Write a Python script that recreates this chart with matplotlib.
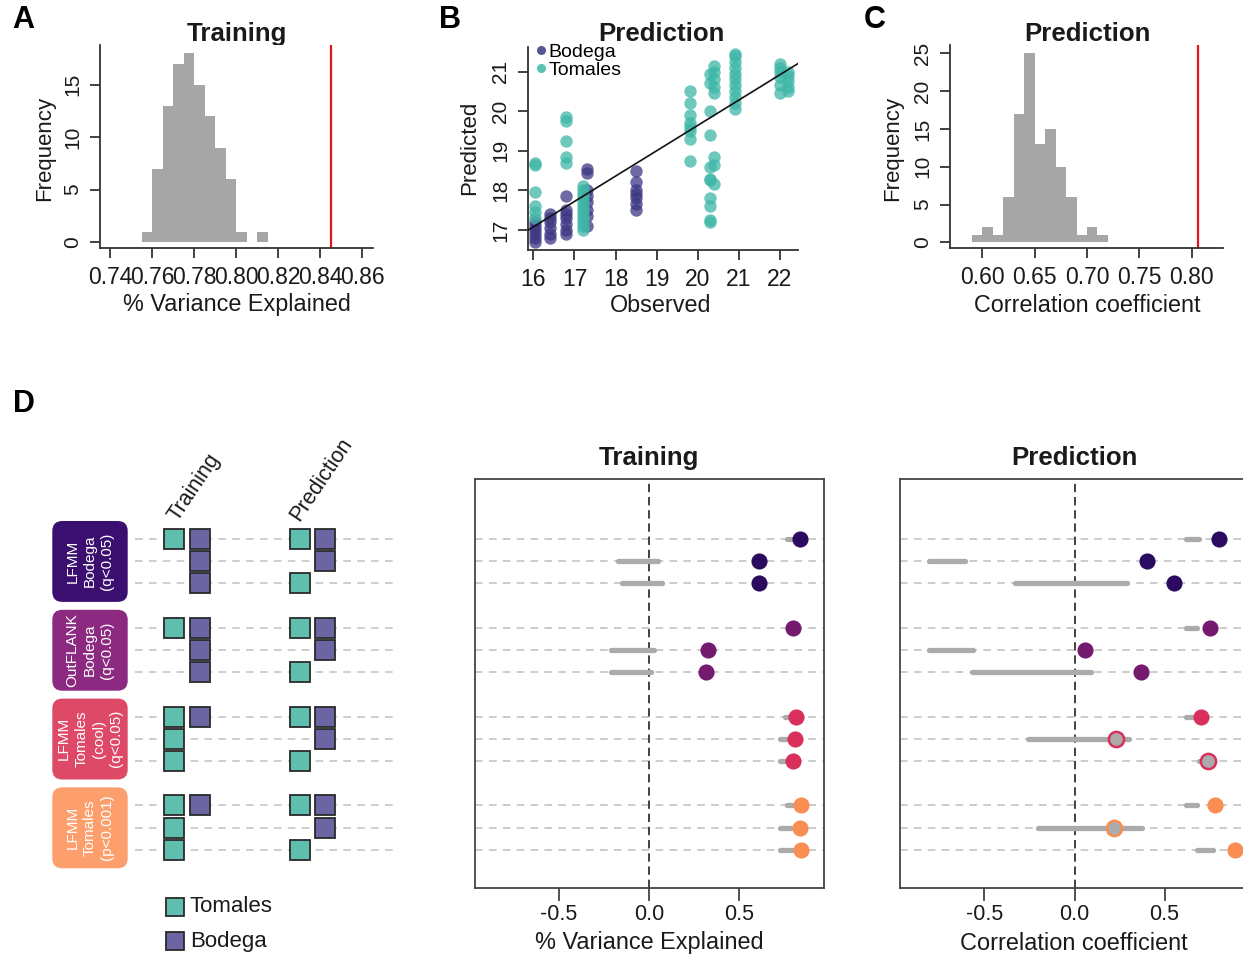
import numpy as np
import matplotlib
matplotlib.use('Agg')
import matplotlib.pyplot as plt
from matplotlib.patches import FancyBboxPatch, Rectangle
from matplotlib.lines import Line2D

plt.rcParams['font.family'] = ['Liberation Sans', 'DejaVu Sans']
plt.rcParams['lines.scale_dashes'] = False

# ---------------- data ----------------
# A: training permutation histogram (% variance explained)
a_left = [0.755, 0.760, 0.765, 0.770, 0.775, 0.780, 0.785, 0.790, 0.795, 0.800, 0.805, 0.810]
a_count = [1, 7, 13, 17, 18, 15, 12, 9, 6, 1, 0, 1]
a_width = 0.005
a_observed = 0.845
a_xticks = [0.74, 0.76, 0.78, 0.80, 0.82, 0.84, 0.86]

# C: prediction permutation histogram (correlation)
c_left = [0.59, 0.60, 0.61, 0.62, 0.63, 0.64, 0.65, 0.66, 0.67, 0.68, 0.69, 0.70, 0.71]
c_count = [1, 2, 1, 6, 17, 25, 13, 15, 10, 6, 1, 2, 1]
c_width = 0.01
c_observed = 0.806
c_xticks = [0.60, 0.65, 0.70, 0.75, 0.80]

# B: observed vs predicted
bod_obs = [16.05, 16.4, 16.8, 17.3, 18.5]
bod_pred = [
    [16.7, 16.8, 16.9, 17.0, 17.1, 17.2],
    [16.8, 16.9, 17.05, 17.2, 17.3, 17.4],
    [16.9, 17.0, 17.15, 17.3, 17.4, 17.5, 17.85],
    [17.1, 17.35, 17.5, 17.7, 17.85, 18.0, 18.45, 18.55],
    [17.5, 17.65, 17.8, 17.9, 18.0, 18.2, 18.5],
]
tom_obs = [16.05, 16.8, 17.2, 19.8, 20.3, 20.4, 20.9, 22.0, 22.2]
tom_pred = [
    [17.3, 17.45, 17.6, 17.95, 18.65, 18.7],
    [18.7, 18.85, 19.25, 19.75, 19.85],
    [17.0, 17.1, 17.2, 17.3, 17.4, 17.5, 17.6, 17.7, 17.8, 17.9, 18.0, 18.1],
    [18.75, 19.3, 19.5, 19.6, 19.7, 19.9, 20.2, 20.5],
    [17.2, 17.25, 17.6, 17.8, 18.25, 18.3, 18.6, 19.4, 20.0, 20.7, 20.95],
    [18.15, 18.65, 18.85, 20.45, 20.6, 20.8, 21.0, 21.15],
    [20.05, 20.2, 20.35, 20.5, 20.65, 20.8, 20.95, 21.1, 21.25, 21.4, 21.45],
    [20.45, 20.65, 20.85, 21.0, 21.1, 21.2],
    [20.5, 20.6, 20.75, 20.9, 21.0],
]
fit_intercept = 6.84
fit_slope = 0.64

# D: forest plots
methods = ['LFMM\nBodega\n(q<0.05)', 'OutFLANK\nBodega\n(q<0.05)',
           'LFMM\nTomales\n(cool)\n(q<0.05)', 'LFMM\nTomales\n(p<0.001)']
train_tom = [1, 0, 0, 1, 0, 0, 1, 1, 1, 1, 1, 1]
train_bod = [1, 1, 1, 1, 1, 1, 1, 0, 0, 1, 0, 0]
pred_tom = [1, 0, 1, 1, 0, 1, 1, 0, 1, 1, 0, 1]
pred_bod = [1, 1, 0, 1, 1, 0, 1, 1, 0, 1, 1, 0]

train_est = [0.84, 0.61, 0.61, 0.80, 0.33, 0.315, 0.815, 0.81, 0.80, 0.845, 0.84, 0.845]
train_lo = [0.765, -0.17, -0.15, 0.77, -0.21, -0.21, 0.755, 0.73, 0.73, 0.765, 0.73, 0.73]
train_hi = [0.80, 0.05, 0.07, 0.79, 0.03, 0.01, 0.80, 0.79, 0.78, 0.81, 0.79, 0.81]

pred_est = [0.80, 0.40, 0.555, 0.75, 0.06, 0.37, 0.70, 0.23, 0.74, 0.78, 0.22, 0.89]
pred_lo = [0.62, -0.81, -0.33, 0.62, -0.81, -0.57, 0.62, -0.26, 0.69, 0.62, -0.20, 0.68]
pred_hi = [0.69, -0.61, 0.29, 0.68, -0.565, 0.09, 0.69, 0.30, 0.73, 0.68, 0.375, 0.77]
pred_hollow = [0, 0, 0, 0, 0, 0, 0, 1, 1, 0, 1, 0]

# ---------------- styles ----------------
W, H = 1243, 957
grey_bar = '#A6A6A6'
red = '#E3161E'
ink = '#1a1a1a'
axc = '#333333'
bod_col = '#3D3784'
tom_col = '#3DB6A6'
sq_tom = '#5EBFAE'
sq_bod = '#6B65A3'
box_cols = ['#3B0F70', '#8C2981', '#DE4968', '#FC9F6D']
pt_cols = ['#2B0B5F', '#741B70', '#D8305A', '#F98D52']

fig = plt.figure(figsize=(W / 100, H / 100), dpi=100)

def px_axes(l, t, r, b):
    return fig.add_axes([l / W, 1 - b / H, (r - l) / W, (b - t) / H])

ov = fig.add_axes([0, 0, 1, 1])
ov.set_xlim(0, W)
ov.set_ylim(H, 0)
ov.axis('off')

def r_axes(ax):
    for s in ['top', 'right']:
        ax.spines[s].set_visible(False)
    for s in ['left', 'bottom']:
        ax.spines[s].set_color(axc)
        ax.spines[s].set_linewidth(1.3)
    ax.tick_params(length=7, width=1.3, color=axc, pad=6, labelcolor=ink)
    ax.tick_params(axis='x', labelsize=16.5)
    ax.tick_params(axis='y', labelrotation=90, labelsize=15)

# ---------------- A ----------------
axA = px_axes(100, 45, 373, 248)
axA.bar(a_left, a_count, width=a_width, align='edge', color=grey_bar, linewidth=0)
axA.axvline(a_observed, color=red, lw=1.6)
axA.set_xlim(0.7352, 0.8652)
axA.set_ylim(-0.57, 18.8)
axA.set_xticks(a_xticks)
axA.set_xticklabels(['%.2f' % v for v in a_xticks])
axA.set_yticks([0, 5, 10, 15])
r_axes(axA)
plt.setp(axA.get_yticklabels(), va='center')

# ---------------- B ----------------
axB = px_axes(528, 47, 798, 250)
for x, ys in zip(bod_obs, bod_pred):
    axB.scatter([x] * len(ys), ys, s=80, color=bod_col, alpha=0.75, linewidths=0, zorder=2)
for x, ys in zip(tom_obs, tom_pred):
    axB.scatter([x] * len(ys), ys, s=80, color=tom_col, alpha=0.75, linewidths=0, zorder=2)
axB.axline((0, fit_intercept), slope=fit_slope, color='#111111', lw=1.2, zorder=3)
axB.set_xlim(15.87, 22.44)
axB.set_ylim(16.495, 21.62)
axB.set_xticks(range(16, 23))
axB.set_yticks(range(17, 22))
r_axes(axB)
plt.setp(axB.get_yticklabels(), va='center')
handles = [Line2D([], [], ls='none', marker='o', ms=6.5, color=bod_col, alpha=0.85, mew=0),
           Line2D([], [], ls='none', marker='o', ms=6.5, color=tom_col, alpha=0.85, mew=0)]
axB.legend(handles, ['Bodega', 'Tomales'], loc='upper left', frameon=False, fontsize=14,
           handlelength=0.5, handletextpad=0.15, labelspacing=0.02, borderpad=0,
           borderaxespad=0, bbox_to_anchor=(536 / W, 1 - 43 / H), bbox_transform=fig.transFigure)

# ---------------- C ----------------
axC = px_axes(950, 45, 1223, 248)
axC.bar(c_left, c_count, width=c_width, align='edge', color=grey_bar, linewidth=0)
axC.axvline(c_observed, color=red, lw=1.6)
axC.set_xlim(0.5691, 0.8299)
axC.set_ylim(-0.75, 26.1)
axC.set_xticks(c_xticks)
axC.set_xticklabels(['%.2f' % v for v in c_xticks])
axC.set_yticks([0, 5, 10, 15, 20, 25])
r_axes(axC)
plt.setp(axC.get_yticklabels(), va='center')

# titles / labels for top row
for x, t in [(237, 'Training'), (661, 'Prediction'), (1087, 'Prediction')]:
    ov.text(x, 34, t, fontsize=18.6, weight='bold', ha='center', va='center', color=ink)
for x, t in [(237, '% Variance Explained'), (661, 'Observed'), (1087, 'Correlation coefficient')]:
    ov.text(x, 305, t, fontsize=16.8, ha='center', va='center', color=ink)
for x, t in [(45, 'Frequency'), (470, 'Predicted'), (893, 'Frequency')]:
    ov.text(x, 148, t, fontsize=16, ha='center', va='center', rotation=90, color=ink)
for x, y, t in [(23, 20, 'A'), (450, 20, 'B'), (875, 20, 'C'), (24, 404, 'D')]:
    ov.text(x, y, t, fontsize=22, weight='bold', ha='center', va='center', color='black')

# ---------------- D ----------------
row_top, row_step = 539, 22.2
row_y = [row_top + (g * 4 + r) * row_step for g in range(4) for r in range(3)]
col_x = {'tt': 174, 'tb': 199.7, 'pt': 300, 'pb': 325.5}
sq = 20

for y in row_y:
    ov.plot([135, 398], [y, y], color='#C6C6C6', lw=1.2, dashes=(5.5, 4.5), zorder=1)

for i, y in enumerate(row_y):
    for key, flags, col in [('tt', train_tom, sq_tom), ('tb', train_bod, sq_bod),
                            ('pt', pred_tom, sq_tom), ('pb', pred_bod, sq_bod)]:
        if flags[i]:
            ov.add_patch(Rectangle((col_x[key] - sq / 2, y - sq / 2), sq, sq, facecolor=col,
                                   edgecolor='#2a2a2a', lw=1.3, zorder=3))

for g, (lab, col) in enumerate(zip(methods, box_cols)):
    y0 = row_y[g * 3] - 18
    y1 = row_y[g * 3 + 2] + 18.5
    ov.add_patch(FancyBboxPatch((52.3, y0), 75.4, y1 - y0, boxstyle='round,pad=0,rounding_size=10',
                                facecolor=col, edgecolor='none', zorder=2))
    ov.text(90, row_y[g * 3 + 1], lab, rotation=90, ha='center', va='center', fontsize=11,
            color='white', linespacing=1.3, zorder=4)

ov.text(177, 522, 'Training', rotation=56, rotation_mode='anchor', ha='left', va='baseline',
        fontsize=15.5, color=ink)
ov.text(299, 522, 'Prediction', rotation=56, rotation_mode='anchor', ha='left', va='baseline',
        fontsize=15.5, color=ink)

for y, col, lab in [(907, sq_tom, 'Tomales'), (941, sq_bod, 'Bodega')]:
    ov.add_patch(Rectangle((166, y - 9), 18, 18, facecolor=col, edgecolor='#2a2a2a', lw=1.3))
    ov.text(190, y, lab, fontsize=16, ha='left', va='center', color=ink)

def forest(ax, est, lo, hi, hollow):
    ax.set_xlim(-0.969, 0.969)
    ax.set_ylim(887.7, 479)
    for y in row_y:
        ax.axhline(y, color='#C4C4C4', lw=1.2, dashes=(5.5, 4.5), zorder=0)
    ax.axvline(0, color='#333333', lw=1.3, dashes=(6, 3.5), zorder=1)
    ax.hlines(row_y, lo, hi, color='#ABABAB', lw=3.8, capstyle='round', zorder=2)
    for i, y in enumerate(row_y):
        col = pt_cols[i // 3]
        if hollow[i]:
            ax.scatter([est[i]], [y], s=120, facecolor='#ABABAB', edgecolor=col, linewidths=1.8, zorder=3)
        else:
            ax.scatter([est[i]], [y], s=135, color=col, linewidths=0, zorder=3)
    for s in ax.spines.values():
        s.set_color('#444444')
        s.set_linewidth(1.3)
    ax.set_yticks([])
    ax.set_xticks([-0.5, 0, 0.5])
    ax.set_xticklabels(['-0.5', '0.0', '0.5'])
    ax.tick_params(axis='x', length=9, width=1.3, color='#444444', labelsize=15.5, pad=3,
                   labelcolor=ink)

axT = px_axes(474.5, 479, 823.5, 887.7)
forest(axT, train_est, train_lo, train_hi, [0] * 12)
axP = px_axes(900, 479, 1249, 887.7)
forest(axP, pred_est, pred_lo, pred_hi, pred_hollow)

ov.text(649, 458, 'Training', fontsize=18.6, weight='bold', ha='center', va='center', color=ink)
ov.text(1074, 458, 'Prediction', fontsize=18.6, weight='bold', ha='center', va='center', color=ink)
ov.text(649, 943, '% Variance Explained', fontsize=16.9, ha='center', va='center', color=ink)
ov.text(1074, 943, 'Correlation coefficient', fontsize=16.9, ha='center', va='center', color=ink)

fig.savefig('out.png', dpi=100)
